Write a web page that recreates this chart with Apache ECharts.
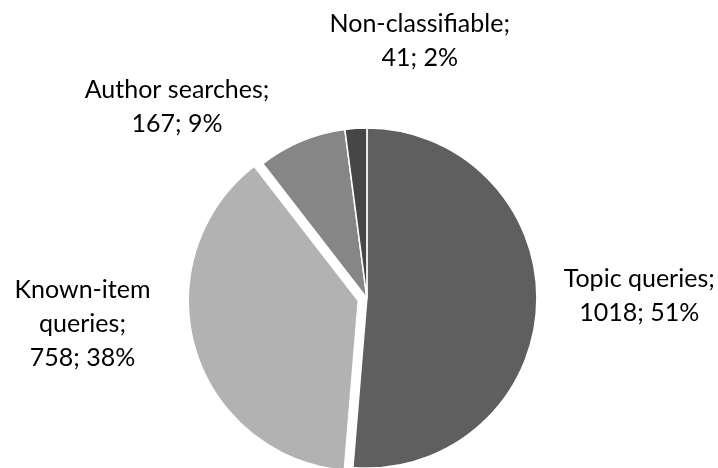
<!DOCTYPE html>
<html>
<head>
<meta charset="utf-8">
<script src="https://cdn.jsdelivr.net/npm/echarts@6/dist/echarts.min.js"></script>
<style>
    html, body { margin: 0; padding: 0; background: #fff; }
    #main { width: 718px; height: 468px; }
</style>
</head>
<body>
<div id="main"></div>
<script>
    // query types, clockwise from 12 o'clock
    const categories = ['Topic queries', 'Known-item queries', 'Author searches', 'Non-classifiable'];
    const counts = [1018, 758, 167, 41];
    const colors = ['#5f5f5f', '#b2b2b2', '#868686', '#464646'];
    // which names wrap onto two lines in the label
    const wrapName = [false, true, false, false];
    // nudges of the labels from where echarts puts them (px)
    const labelDx = [-28, 0, 75, 181];
    const labelDy = [-10, 0, -62, -58];

    let chart = echarts.init(document.getElementById('main'));

    let data = categories.map((name, i) => {
        let item = {
            name: name,
            value: counts[i],
            itemStyle: { color: colors[i] }
        };
        if (i === 1) {
            // exploded slice: its label keeps the select-state anchor,
            // so it is moved with the label line and two empty lines below
            item.selected = true;
            item.labelLine = { length2: 79 };
            item.label = {
                formatter: function (p) {
                    return p.name.replace(' ', '\n') + ';\n' + p.value + '; ' + p.percent + '%\n\n';
                }
            };
        }
        return item;
    });

    let option = {
        animation: false,
        series: [{
            type: 'pie',
            center: ['51.1%', '63.7%'],
            radius: 170,
            startAngle: 90,
            selectedMode: 'single',
            selectedOffset: 9,
            percentPrecision: 0,
            itemStyle: {
                borderColor: '#fff',
                borderWidth: 1.5
            },
            label: {
                show: true,
                position: 'outside',
                formatter: function (p) {
                    let name = wrapName[p.dataIndex] ? p.name.replace(' ', '\n') : p.name;
                    return name + ';\n' + p.value + '; ' + p.percent + '%';
                },
                fontFamily: 'Lato',
                fontSize: 25,
                lineHeight: 34,
                color: '#000',
                overflow: 'none'
            },
            labelLine: {
                show: false,
                length: 30,
                length2: 20
            },
            labelLayout: function (p) {
                let r = p.labelRect;
                let i = p.dataIndex;
                return {
                    x: r.x + r.width / 2 + labelDx[i],
                    y: r.y + r.height / 2 + labelDy[i],
                    align: 'center',
                    verticalAlign: 'middle'
                };
            },
            emphasis: { disabled: true },
            data: data
        }]
    };
    chart.setOption(option);
</script>
</body>
</html>
